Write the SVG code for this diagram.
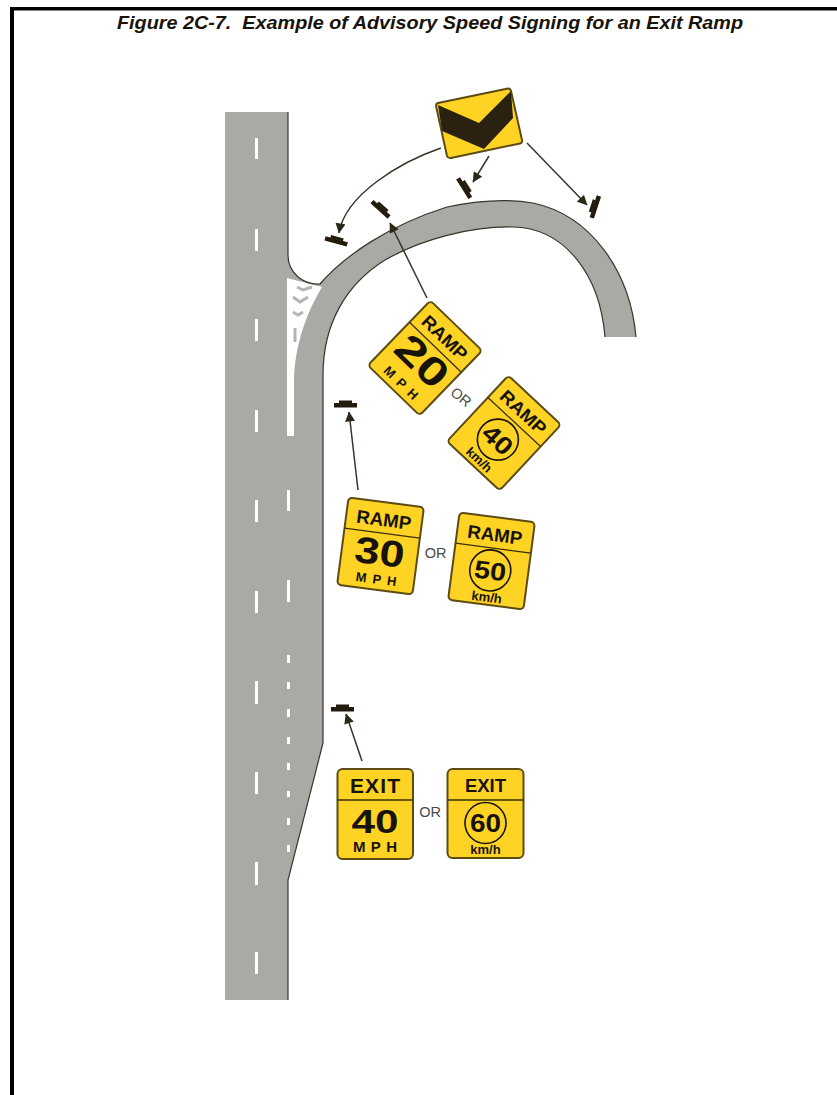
<svg xmlns="http://www.w3.org/2000/svg" width="837" height="1095" viewBox="0 0 837 1095">
<style>
text{font-family:"Liberation Sans",Arial,sans-serif;text-anchor:middle;fill:#17130a}
.b{font-weight:bold}
.sign{fill:#ffd324;stroke:#5c4c12;stroke-width:2}
.div{stroke:#3a300c;stroke-width:1.3;fill:none}
.ring{stroke:#17130a;stroke-width:1.6;fill:none}
.edge{fill:none;stroke:#38342a;stroke-width:1.2}
.dash{fill:#fff}
.chev{fill:none;stroke:#b4b5b0;stroke-width:3}
.or{font-size:14.500px;fill:#4a4a46}
.conn{fill:none;stroke:#38342a;stroke-width:1.5;marker-end:url(#ah)}
.post{fill:#231c0c}
#title{white-space:pre}
</style>
<defs>
<marker id="ah" viewBox="0 0 10 10" refX="9.500" refY="5" markerWidth="11" markerHeight="10" markerUnits="userSpaceOnUse" orient="auto"><path d="M0,0L10,5L0,10Z" fill="#2d2918"/></marker>
<g id="p"><rect class="post" x="-11" y="-1" width="23" height="4.500"/><rect class="post" x="-6" y="-3.500" width="13" height="3"/></g>
</defs>
<g id="frame"><rect x="10" y="7" width="827" height="3.500" fill="#000"/><rect x="10" y="7" width="4" height="1088" fill="#000"/></g>
<text id="title" x="430" y="29" class="b" font-style="italic" font-size="18" textLength="626" lengthAdjust="spacingAndGlyphs">Figure 2C-7.  Example of Advisory Speed Signing for an Exit Ramp</text>
<g id="road">
<path fill="#a9aaa5" d="M225,112H288V255C288,272 302,285 320,284C345,255 390,225 447,207C480,200 510,199 533,203C590,215 630,270 636,337H605C600,275 565,228 513,227C470,226 420,240 385,260C345,285 323,325 323,375V743L288,880V1000H225Z"/>
<path fill="#fff" d="M287,278L322,287C308,310 294,345 294,383V436H287Z"/>
<path class="chev" d="M297,287L303,290L312,287M293,297L300,302L308,297M293,312L298,315L303,312M295,328L295,342"/>
<path class="edge" d="M288,112V255C288,272 302,285 320,284C345,255 390,225 447,207C480,200 510,199 533,203C590,215 630,270 636,337M605,337C600,275 565,228 513,227C470,226 420,240 385,260C345,285 323,325 323,375V743L288,880V1000"/>
<g class="dash">
<rect x="255" y="138" width="3" height="21"/><rect x="255" y="229" width="3" height="22"/><rect x="255" y="319" width="3" height="22"/><rect x="255" y="410" width="3" height="22"/><rect x="255" y="500" width="3" height="22"/><rect x="255" y="591" width="3" height="22"/><rect x="255" y="681" width="3" height="23"/><rect x="255" y="772" width="3" height="22"/><rect x="255" y="862" width="3" height="23"/><rect x="255" y="952" width="3" height="22"/>
<rect x="287" y="490" width="3" height="21"/><rect x="287" y="580" width="3" height="22"/>
<rect x="287" y="655" width="3" height="8"/><rect x="287" y="682" width="3" height="7"/><rect x="287" y="709" width="3" height="8"/><rect x="287" y="737" width="3" height="7"/><rect x="287" y="763" width="3" height="7"/><rect x="287" y="791" width="3" height="6"/><rect x="287" y="818" width="3" height="7"/><rect x="287" y="845" width="3" height="7"/>
</g>
</g>
<g id="connectors">
<path class="conn" d="M441,148C400,162 345,195 339,233"/>
<path class="conn" d="M489,156L473,182"/>
<path class="conn" d="M527,143L587,205"/>
<path class="conn" d="M427,298L390,223"/>
<path class="conn" d="M358,490L349,412"/>
<path class="conn" d="M362,761L346,714"/>
</g>
<g id="posts">
<use href="#p" transform="translate(336,240) rotate(15)"/>
<use href="#p" transform="translate(381,208) rotate(42)"/>
<use href="#p" transform="translate(465,187) rotate(58)"/>
<use href="#p" transform="translate(594,207) rotate(-72)"/>
<use href="#p" transform="translate(345,404)"/>
<use href="#p" transform="translate(342,708)"/>
</g>
<g id="sign-chevron">
<path class="sign" d="M438,103L508,88.500Q510,88 511,91L522,140Q522.500,143 520,143.500L451,158Q448,158.500 447,156L436,106Q436,103.500 438,103Z"/>
<path fill="#2a2110" d="M438,105L479,123L511,91L513,118L484,149L442,131Z"/>
</g>
<g id="sign-ramp20" transform="translate(425,358) rotate(44)">
<rect class="sign" x="-36" y="-45" width="72" height="90" rx="4"/><path class="div" d="M-36,-15H36"/>
<text x="0" y="-22" class="b" font-size="18" textLength="56" lengthAdjust="spacingAndGlyphs">RAMP</text>
<text x="0" y="18" class="b" font-size="40" textLength="58" lengthAdjust="spacingAndGlyphs">20</text>
<text x="0" y="39" class="b" font-size="13" textLength="42" lengthAdjust="spacing">MPH</text>
</g>
<text id="or-1" class="or" transform="translate(458,401) rotate(38)">OR</text>
<g id="sign-ramp40" transform="translate(504,433) rotate(43)">
<rect class="sign" x="-36" y="-45" width="72" height="90" rx="4"/><path class="div" d="M-36,-15H36"/>
<text x="0" y="-22" class="b" font-size="18" textLength="56" lengthAdjust="spacingAndGlyphs">RAMP</text>
<circle class="ring" cx="0" cy="9" r="20.500"/>
<text x="0" y="18" class="b" font-size="25" textLength="32" lengthAdjust="spacingAndGlyphs">40</text>
<text x="0" y="41" class="b" font-size="13">km/h</text>
</g>
<g id="sign-ramp30" transform="translate(380.500,546) rotate(7.500)">
<rect class="sign" x="-38" y="-44" width="76" height="88" rx="4"/><path class="div" d="M-38,-13H38"/>
<text x="0" y="-20" class="b" font-size="18.500" textLength="55" lengthAdjust="spacingAndGlyphs">RAMP</text>
<text x="0" y="19" class="b" font-size="37" textLength="50" lengthAdjust="spacingAndGlyphs">30</text>
<text x="0" y="38" class="b" font-size="13" textLength="41" lengthAdjust="spacing">MPH</text>
</g>
<text id="or-2" class="or" x="435.500" y="558">OR</text>
<g id="sign-ramp50" transform="translate(491.500,561) rotate(7.500)">
<rect class="sign" x="-38" y="-44" width="76" height="88" rx="4"/><path class="div" d="M-38,-13H38"/>
<text x="0" y="-20" class="b" font-size="18.500" textLength="55" lengthAdjust="spacingAndGlyphs">RAMP</text>
<circle class="ring" cx="0" cy="9.500" r="20.500"/>
<text x="0" y="18.500" class="b" font-size="25" textLength="32" lengthAdjust="spacingAndGlyphs">50</text>
<text x="0" y="41" class="b" font-size="13">km/h</text>
</g>
<g id="sign-exit40">
<rect class="sign" x="337.500" y="769" width="75.500" height="90" rx="5"/><path class="div" d="M337.500,800H413"/>
<text x="375" y="793" class="b" font-size="21" textLength="50" lengthAdjust="spacing">EXIT</text>
<text x="375" y="833" class="b" font-size="33" textLength="47" lengthAdjust="spacingAndGlyphs">40</text>
<text x="375" y="852" class="b" font-size="15" textLength="44" lengthAdjust="spacing">MPH</text>
</g>
<text id="or-3" class="or" x="430" y="817">OR</text>
<g id="sign-exit60">
<rect class="sign" x="447.500" y="769" width="76" height="89" rx="5"/><path class="div" d="M447.500,800H523.500"/>
<text x="485.500" y="792" class="b" font-size="18.500" textLength="41" lengthAdjust="spacing">EXIT</text>
<circle class="ring" cx="485.500" cy="823" r="20.500"/>
<text x="485.500" y="832" class="b" font-size="25" textLength="31" lengthAdjust="spacingAndGlyphs">60</text>
<text x="485.500" y="853.500" class="b" font-size="13">km/h</text>
</g>
</svg>
